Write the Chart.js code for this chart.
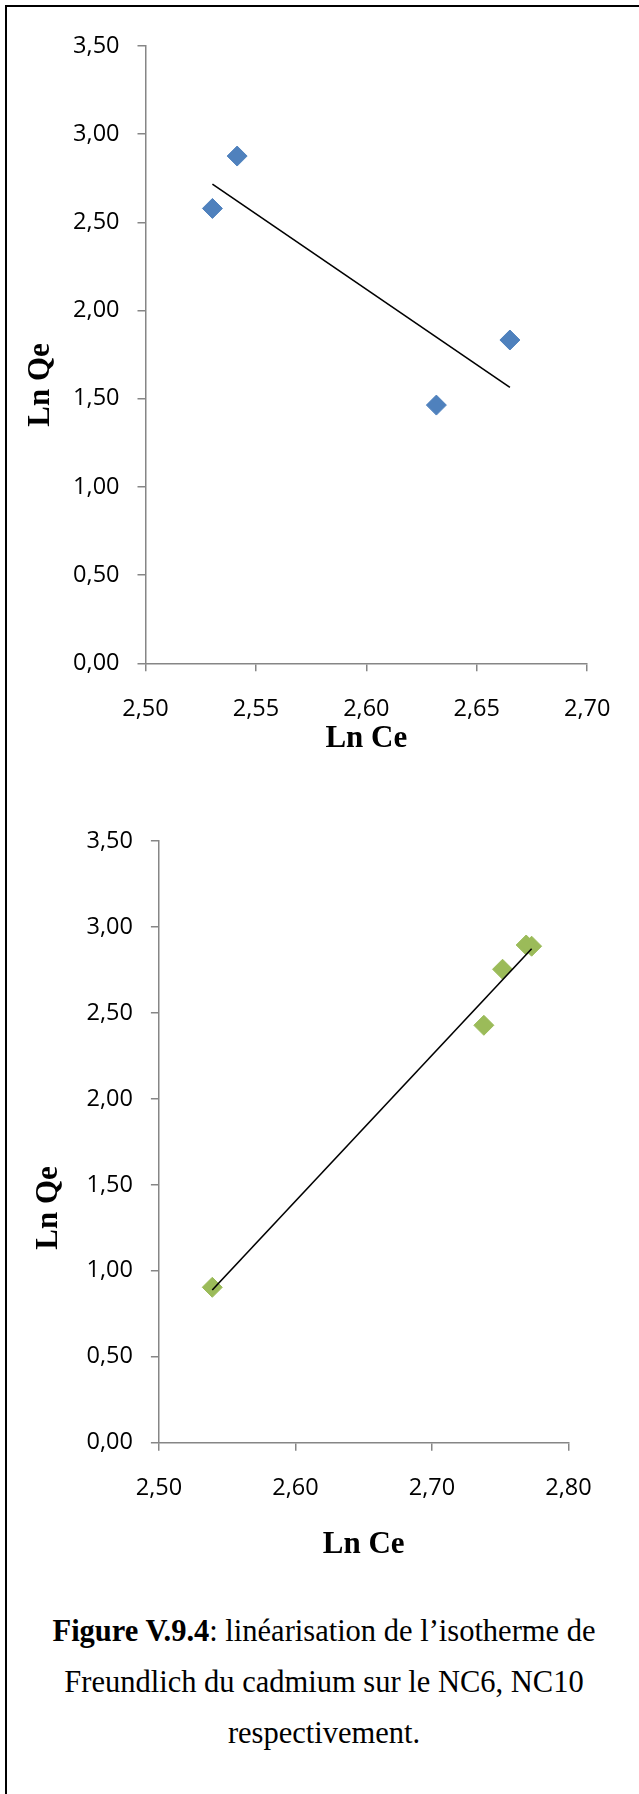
<!DOCTYPE html>
<html>
<head>
<meta charset="utf-8">
<script src="https://cdn.jsdelivr.net/npm/chart.js@4"></script>
<style>
  body { margin: 0; background: #fff; width: 639px; height: 1794px; position: relative; overflow: hidden; }
  .frame { position: absolute; left: 5px; top: 5px; width: 700px; height: 1800px;
           border-top: 2px solid #000; border-left: 2px solid #000; }
  canvas { position: absolute; left: 0; }
  #nc6 { top: 0; }
  #nc10 { top: 760px; }
  .caption { position: absolute; left: 7px; width: 634px; top: 1606px; text-align: center;
             font-family: "Liberation Serif", "Times New Roman", serif; font-size: 30.5px; line-height: 51px; color: #000; }
</style>
</head>
<body>
<div class="frame"></div>
<canvas id="nc6" width="639" height="760"></canvas>
<canvas id="nc10" width="639" height="820"></canvas>
<div class="caption"><b>Figure V.9.4</b>: linéarisation de l’isotherme de<br>Freundlich du cadmium sur le NC6, NC10<br>respectivement.</div>

<script>
// NC6
const lnCe1 = [2.5303, 2.5415, 2.6317, 2.6650];
const lnQe1 = [2.579, 2.876, 1.464, 1.833];
const xTicks1 = [2.50, 2.55, 2.60, 2.65, 2.70];

// NC10
const lnCe2 = [2.5391, 2.7380, 2.7517, 2.7690, 2.7730];
const lnQe2 = [0.904, 2.428, 2.754, 2.895, 2.888];
const xTicks2 = [2.50, 2.60, 2.70, 2.80];

const yTicks = [0.00, 0.50, 1.00, 1.50, 2.00, 2.50, 3.00, 3.50];

const comma = (v) => v.toFixed(2).replace('.', ',');

// least squares line over the x range of the points
function trend(xs, ys) {
    const n = xs.length;
    const mx = xs.reduce((a, b) => a + b, 0) / n;
    const my = ys.reduce((a, b) => a + b, 0) / n;
    let sxy = 0, sxx = 0;
    for (let i = 0; i < n; i++) {
        sxy += (xs[i] - mx) * (ys[i] - my);
        sxx += (xs[i] - mx) * (xs[i] - mx);
    }
    const slope = sxy / sxx;
    const x0 = Math.min(...xs), x1 = Math.max(...xs);
    return [{x: x0, y: my + slope * (x0 - mx)}, {x: x1, y: my + slope * (x1 - mx)}];
}

const axisTitles = {
    id: 'axisTitles',
    afterDraw(chart, args, opts) {
        const ctx = chart.ctx;
        const area = chart.chartArea;
        ctx.save();
        ctx.fillStyle = '#000';
        ctx.font = 'bold 31px "Liberation Serif"';
        ctx.textAlign = 'center';
        ctx.textBaseline = 'alphabetic';
        ctx.fillText(opts.x, (area.left + area.right) / 2, opts.xBase);
        ctx.translate(opts.yBase, opts.yMid);
        ctx.rotate(-Math.PI / 2);
        ctx.fillText(opts.y, 0, 0);
        ctx.restore();
    }
};

function makeChart(id, xs, ys, color, xTicks, box) {
    const pts = xs.map((x, i) => ({x: x, y: ys[i]}));
    const axisColor = '#868686';
    return new Chart(document.getElementById(id), {
        type: 'scatter',
        data: {
            datasets: [
                {
                    data: pts,
                    order: 1,
                    pointStyle: 'rectRot',
                    pointRadius: 10,
                    pointBackgroundColor: color,
                    pointBorderColor: color,
                    pointBorderWidth: 1
                },
                {
                    data: trend(xs, ys),
                    order: 0,
                    showLine: true,
                    borderColor: '#000',
                    borderWidth: 1.6,
                    pointRadius: 0
                }
            ]
        },
        options: {
            responsive: false,
            animation: false,
            layout: { padding: { left: 0, top: box.top, right: box.right, bottom: 0 } },
            plugins: {
                legend: { display: false },
                tooltip: { enabled: false },
                axisTitles: { x: 'Ln Ce', y: 'Ln Qe', xBase: box.xBase, yBase: box.yBase, yMid: box.yMid }
            },
            scales: {
                x: {
                    type: 'linear',
                    min: xTicks[0],
                    max: xTicks[xTicks.length - 1],
                    afterBuildTicks: (s) => { s.ticks = xTicks.map(v => ({value: v})); },
                    afterFit: (s) => { s.height = box.xHeight; },
                    border: { color: axisColor, width: 1.5 },
                    grid: { drawOnChartArea: false, color: axisColor, lineWidth: 1.5, tickLength: 8 },
                    ticks: { callback: comma, color: '#000', padding: 24, font: { family: 'Open Sans', size: 23.5 } }
                },
                y: {
                    type: 'linear',
                    min: 0,
                    max: 3.5,
                    afterBuildTicks: (s) => { s.ticks = yTicks.map(v => ({value: v})); },
                    afterFit: (s) => { s.width = box.yWidth; },
                    border: { color: axisColor, width: 1.5 },
                    grid: { drawOnChartArea: false, color: axisColor, lineWidth: 1.5, tickLength: 8 },
                    ticks: { callback: comma, color: '#000', padding: 18, font: { family: 'Open Sans', size: 23.5 } }
                }
            }
        },
        plugins: [axisTitles]
    });
}

makeChart('nc6', lnCe1, lnQe1, '#4F81BD', xTicks1,
    { top: 46, right: 51.8, yWidth: 145.5, xHeight: 96.7, xBase: 747, yBase: 49, yMid: 385 });
makeChart('nc10', lnCe2, lnQe2, '#9BBB59', xTicks2,
    { top: 81, right: 70.5, yWidth: 158.9, xHeight: 137.3, xBase: 793, yBase: 57, yMid: 448 });
</script>
</body>
</html>
